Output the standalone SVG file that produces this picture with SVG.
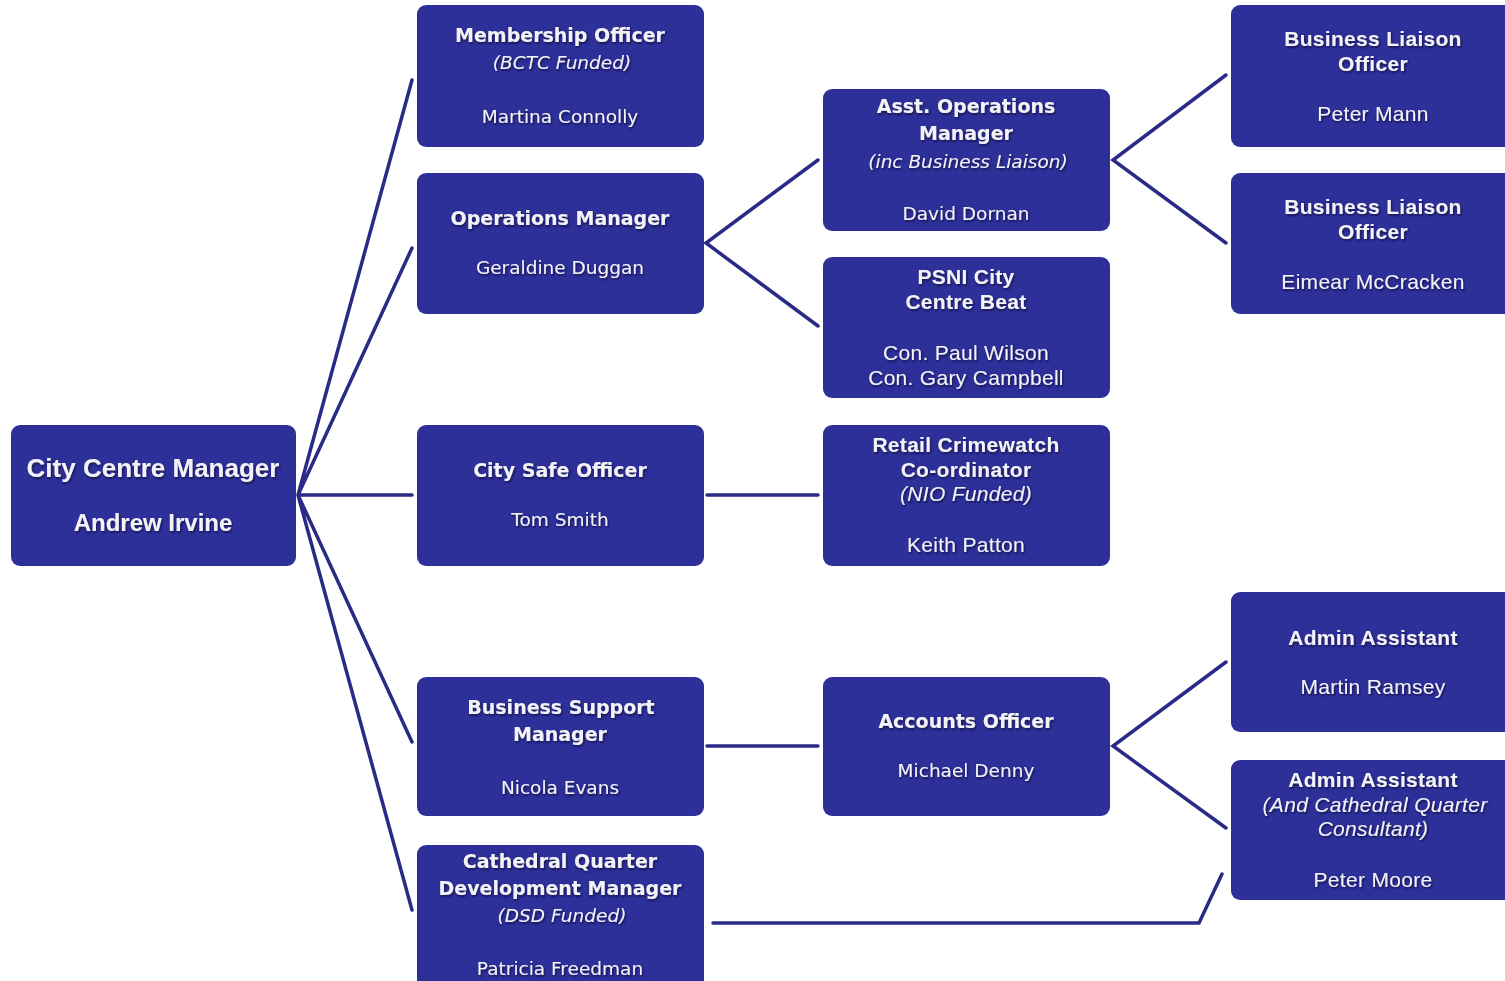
<svg xmlns="http://www.w3.org/2000/svg" width="1505" height="981" viewBox="0 0 1505 981">
<defs>
<filter id="ts" x="-10%" y="-30%" width="120%" height="160%">
<feDropShadow dx="1" dy="1.5" stdDeviation="0.8" flood-color="#0a0a30" flood-opacity="0.8"/>
</filter>
<style>
.box{fill:#2E309A;}
.con{fill:none;stroke:#2A2B86;stroke-width:3.5;stroke-linecap:round;}
text{fill:#F2F2F8;text-anchor:middle;filter:url(#ts);}
.t{font-family:"DejaVu Sans",sans-serif;font-size:18.5px;}
.t.b{font-size:19px;}
.a{font-family:"Liberation Sans",Arial,sans-serif;font-size:21px;letter-spacing:0.3px;}
.b{font-weight:bold;}
.i{font-style:italic;}
.r{font-family:"Liberation Sans",Arial,sans-serif;font-weight:bold;font-size:26px;}
</style>
</defs>
<rect width="1505" height="981" fill="#FFFFFF"/>
<g id="connectors">
<path class="con" d="M298,495 L412,80 M298,495 L412,248 M298,495 L412,495 M298,495 L412,742 M298,495 L412,910"/>
<path class="con" d="M818,160 L706,243 L818,326"/>
<path class="con" d="M1226,75 L1113,160 L1226,243"/>
<path class="con" d="M707,495 L818,495"/>
<path class="con" d="M707,746 L818,746"/>
<path class="con" d="M1226,662 L1113,746 L1226,828"/>
<path class="con" d="M713,923 L1199,923 L1222,874"/>
</g>
<g id="n-ccm">
<rect class="box" x="11" y="425" width="285" height="141" rx="9"/>
<text class="r" x="153" y="477">City Centre Manager</text>
<text class="r" x="153" y="531" style="font-size:24px">Andrew Irvine</text>
</g>
<g id="n-membership">
<rect class="box" x="417" y="5" width="287" height="142" rx="9"/>
<text class="t b" x="560" y="42">Membership Officer</text>
<text class="t i" x="562" y="69">(BCTC Funded)</text>
<text class="t" x="560" y="123">Martina Connolly</text>
</g>
<g id="n-ops">
<rect class="box" x="417" y="173" width="287" height="141" rx="9"/>
<text class="t b" x="560" y="225">Operations Manager</text>
<text class="t" x="560" y="274">Geraldine Duggan</text>
</g>
<g id="n-citysafe">
<rect class="box" x="417" y="425" width="287" height="141" rx="9"/>
<text class="t b" x="560" y="477">City Safe Officer</text>
<text class="t" x="560" y="526">Tom Smith</text>
</g>
<g id="n-bsm">
<rect class="box" x="417" y="677" width="287" height="139" rx="9"/>
<text class="t b" x="561" y="714">Business Support</text>
<text class="t b" x="560" y="741">Manager</text>
<text class="t" x="560" y="794">Nicola Evans</text>
</g>
<g id="n-cathedral">
<rect class="box" x="417" y="845" width="287" height="150" rx="9"/>
<text class="t b" x="560" y="868">Cathedral Quarter</text>
<text class="t b" x="560" y="895">Development Manager</text>
<text class="t i" x="562" y="922">(DSD Funded)</text>
<text class="t" x="560" y="975">Patricia Freedman</text>
</g>
<g id="n-asstops">
<rect class="box" x="823" y="89" width="287" height="142" rx="9"/>
<text class="t b" x="966" y="113">Asst. Operations</text>
<text class="t b" x="966" y="140">Manager</text>
<text class="t i" x="968" y="168">(inc Business Liaison)</text>
<text class="t" x="966" y="220">David Dornan</text>
</g>
<g id="n-psni">
<rect class="box" x="823" y="257" width="287" height="141" rx="9"/>
<text class="a b" x="966" y="284">PSNI City</text>
<text class="a b" x="966" y="309">Centre Beat</text>
<text class="a" x="966" y="360">Con. Paul Wilson</text>
<text class="a" x="966" y="385">Con. Gary Campbell</text>
</g>
<g id="n-retail">
<rect class="box" x="823" y="425" width="287" height="141" rx="9"/>
<text class="a b" x="966" y="452">Retail Crimewatch</text>
<text class="a b" x="966" y="477">Co-ordinator</text>
<text class="a i" x="966" y="501">(NIO Funded)</text>
<text class="a" x="966" y="552">Keith Patton</text>
</g>
<g id="n-accounts">
<rect class="box" x="823" y="677" width="287" height="139" rx="9"/>
<text class="t b" x="966" y="728">Accounts Officer</text>
<text class="t" x="966" y="777">Michael Denny</text>
</g>
<g id="n-blo1">
<rect class="box" x="1231" y="5" width="290" height="142" rx="9"/>
<text class="a b" x="1373" y="46">Business Liaison</text>
<text class="a b" x="1373" y="71">Officer</text>
<text class="a" x="1373" y="121">Peter Mann</text>
</g>
<g id="n-blo2">
<rect class="box" x="1231" y="173" width="290" height="141" rx="9"/>
<text class="a b" x="1373" y="214">Business Liaison</text>
<text class="a b" x="1373" y="239">Officer</text>
<text class="a" x="1373" y="289">Eimear McCracken</text>
</g>
<g id="n-admin1">
<rect class="box" x="1231" y="592" width="290" height="140" rx="9"/>
<text class="a b" x="1373" y="645">Admin Assistant</text>
<text class="a" x="1373" y="694">Martin Ramsey</text>
</g>
<g id="n-admin2">
<rect class="box" x="1231" y="760" width="290" height="140" rx="9"/>
<text class="a b" x="1373" y="787">Admin Assistant</text>
<text class="a i" x="1375" y="812">(And Cathedral  Quarter</text>
<text class="a i" x="1373" y="836">Consultant)</text>
<text class="a" x="1373" y="887">Peter Moore</text>
</g>
</svg>
